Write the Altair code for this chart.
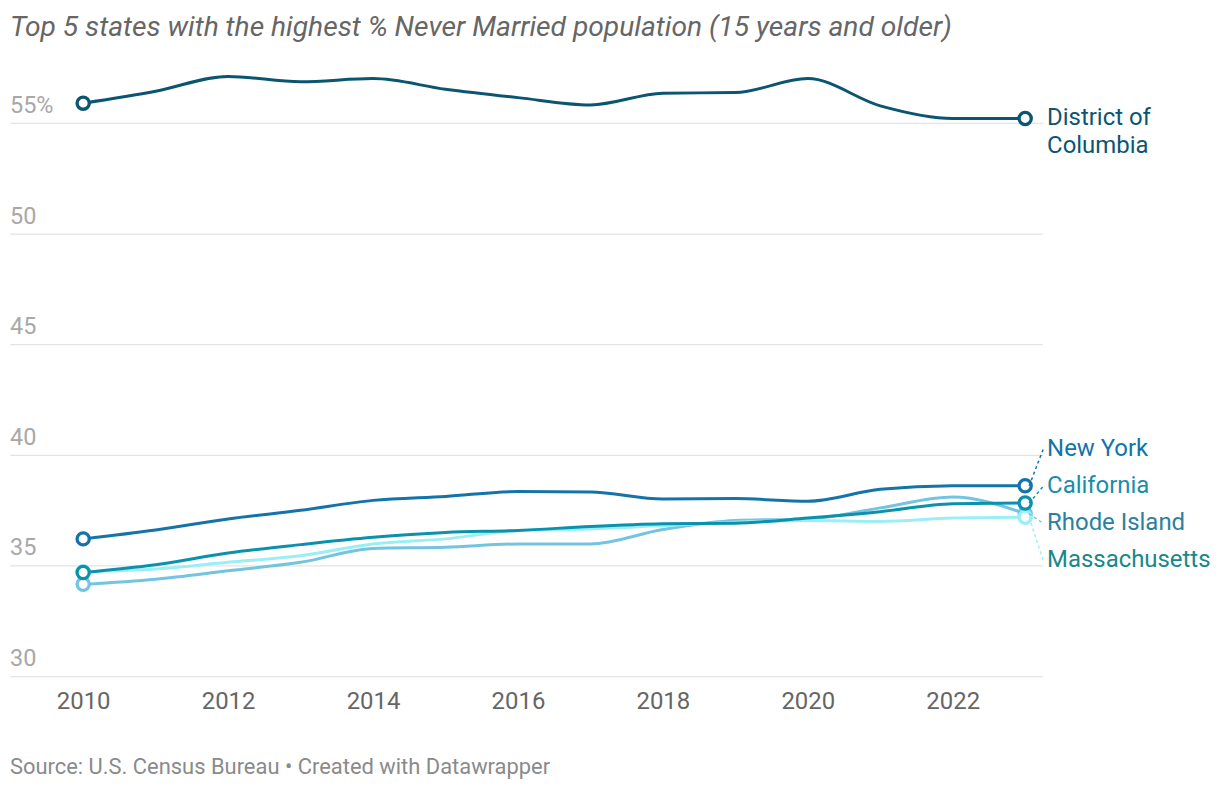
import altair as alt
import pandas as pd

years = list(range(2010, 2024))
states = ["Rhode Island", "Massachusetts", "California", "New York", "District of Columbia"]
dc = [55.89, 56.43, 57.10, 56.86, 57.00, 56.52, 56.14, 55.81, 56.34, 56.37, 57.00, 55.77, 55.20, 55.20]
ny = [36.20, 36.60, 37.10, 37.49, 37.94, 38.12, 38.34, 38.32, 38.00, 38.02, 37.90, 38.44, 38.60, 38.60]
ca = [34.68, 35.03, 35.56, 35.94, 36.27, 36.49, 36.58, 36.76, 36.88, 36.91, 37.14, 37.43, 37.79, 37.82]
ri = [34.15, 34.38, 34.76, 35.14, 35.77, 35.82, 35.97, 35.97, 36.62, 37.03, 37.10, 37.60, 38.09, 37.34]
ma = [34.72, 34.84, 35.14, 35.44, 35.97, 36.20, 36.58, 36.65, 36.80, 36.95, 37.03, 36.99, 37.14, 37.18]
series = {"District of Columbia": dc, "New York": ny, "California": ca,
          "Rhode Island": ri, "Massachusetts": ma}
line_colors = {"District of Columbia": "#0b5571", "New York": "#1473a9",
               "California": "#0a92ad", "Rhode Island": "#72c4e1",
               "Massachusetts": "#9beff4"}
label_colors = {"District of Columbia": "#0b5571", "New York": "#1473a9",
                "California": "#178ea8", "Rhode Island": "#2a80a0",
                "Massachusetts": "#17888a"}
y_ticks = [30, 35, 40, 45, 50, 55]
x_ticks = [2010, 2012, 2014, 2016, 2018, 2020, 2022]
title = "Top 5 states with the highest % Never Married population (15 years and older)"
source = "Source: U.S. Census Bureau \u2022 Created with Datawrapper"

rows = []
for s in states:
    for yr, v in zip(years, series[s]):
        rows.append({"state": s, "year": yr, "value": v})
df = pd.DataFrame(rows)

# label dodge for the clustered series
cluster = ["New York", "California", "Rhode Island", "Massachusetts"]
ends = [series[s][-1] for s in cluster]
gap = 1.67
pos = []
for e in ends:
    pos.append(e if not pos else min(e, pos[-1] - gap))
shift = sum(ends) / len(ends) - sum(pos) / len(pos)
pos = [p + shift for p in pos]
lab = pd.DataFrame({"state": cluster, "year": [years[-1]] * 4, "end": ends, "ly": pos})

xs = alt.Scale(domain=[2008.99, 2023.24], nice=False)
ys = alt.Scale(domain=[30, 57.79], nice=False, zero=False)
X = alt.X("year:Q", scale=xs, axis=alt.Axis(values=x_ticks, format="d", labelFontSize=24,
          labelColor="#666666", labelFont="Roboto", ticks=False, domain=False, grid=False,
          labelPadding=14, title=None))

layers = []
grid = alt.Chart(pd.DataFrame({"value": y_ticks})).mark_text(
    align="left", baseline="alphabetic", dy=-10, fontSize=23.5, font="Roboto", color="#a8a8a8"
).encode(
    x=alt.value(0), y=alt.Y("value:Q", scale=ys, axis=alt.Axis(values=y_ticks, grid=True,
        gridColor="#e3e3e3", gridWidth=1.2, labels=False, ticks=False, domain=False, title=None)),
    text=alt.Text("lbl:N"),
).transform_calculate(lbl="datum.value == 55 ? '55%' : '' + datum.value")
layers.append(grid)

for s in states:
    sub = df[df.state == s]
    layers.append(alt.Chart(sub).mark_line(interpolate="monotone", strokeWidth=3,
                  color=line_colors[s]).encode(x=X, y=alt.Y("value:Q", scale=ys)))
for s in states:
    sub = df[(df.state == s) & (df.year.isin([years[0], years[-1]]))]
    layers.append(alt.Chart(sub).mark_point(shape="circle", filled=True, fill="white",
                  stroke=line_colors[s], strokeWidth=3.3, size=150, opacity=1).encode(
                  x=alt.X("year:Q", scale=xs), y=alt.Y("value:Q", scale=ys)))

for s in cluster:
    sub = lab[lab.state == s]
    layers.append(alt.Chart(sub).mark_rule(strokeDash=[3, 3], strokeWidth=1.5,
                  color=line_colors[s], xOffset=4, x2Offset=18).encode(
                  x=alt.X("year:Q", scale=xs), x2="year:Q",
                  y=alt.Y("end:Q", scale=ys), y2="ly:Q"))
    layers.append(alt.Chart(sub).mark_text(align="left", baseline="middle", dx=22,
                  fontSize=24, font="Roboto", color=label_colors[s]).encode(
                  x=alt.X("year:Q", scale=xs), y=alt.Y("ly:Q", scale=ys), text="state:N"))

dcend = pd.DataFrame({"year": [years[-1]], "value": [dc[-1]], "t1": ["District of"], "t2": ["Columbia"]})
layers.append(alt.Chart(dcend).mark_text(align="left", baseline="middle", dx=22, fontSize=24,
              font="Roboto", color=label_colors["District of Columbia"]).encode(
              x=alt.X("year:Q", scale=xs), y=alt.Y("value:Q", scale=ys), text="t1:N"))
layers.append(alt.Chart(dcend).mark_text(align="left", baseline="middle", dx=22, dy=28, fontSize=24,
              font="Roboto", color=label_colors["District of Columbia"]).encode(
              x=alt.X("year:Q", scale=xs), y=alt.Y("value:Q", scale=ys), text="t2:N"))

layers.append(alt.Chart(pd.DataFrame({"t": [title]})).mark_text(
    align="left", baseline="alphabetic", fontSize=28.3, font="Roboto", fontStyle="italic",
    color="#666666").encode(x=alt.value(0), y=alt.value(-25), text="t:N"))

layers.append(alt.Chart(pd.DataFrame({"t": [source]})).mark_text(
    align="left", baseline="middle", fontSize=22, font="Roboto", color="#8a8a8a").encode(
    x=alt.value(0), y=alt.value(708), text="t:N"))

chart = alt.layer(*layers).properties(
    width=1036, height=617,
    autosize=alt.AutoSizeParams(type="none"),
    padding={"left": 2, "top": 52, "right": 170, "bottom": 110},
).configure(background="white", view=alt.ViewConfig(stroke=None))

chart.save("out.html", embed_options={"renderer": "svg", "actions": False})
